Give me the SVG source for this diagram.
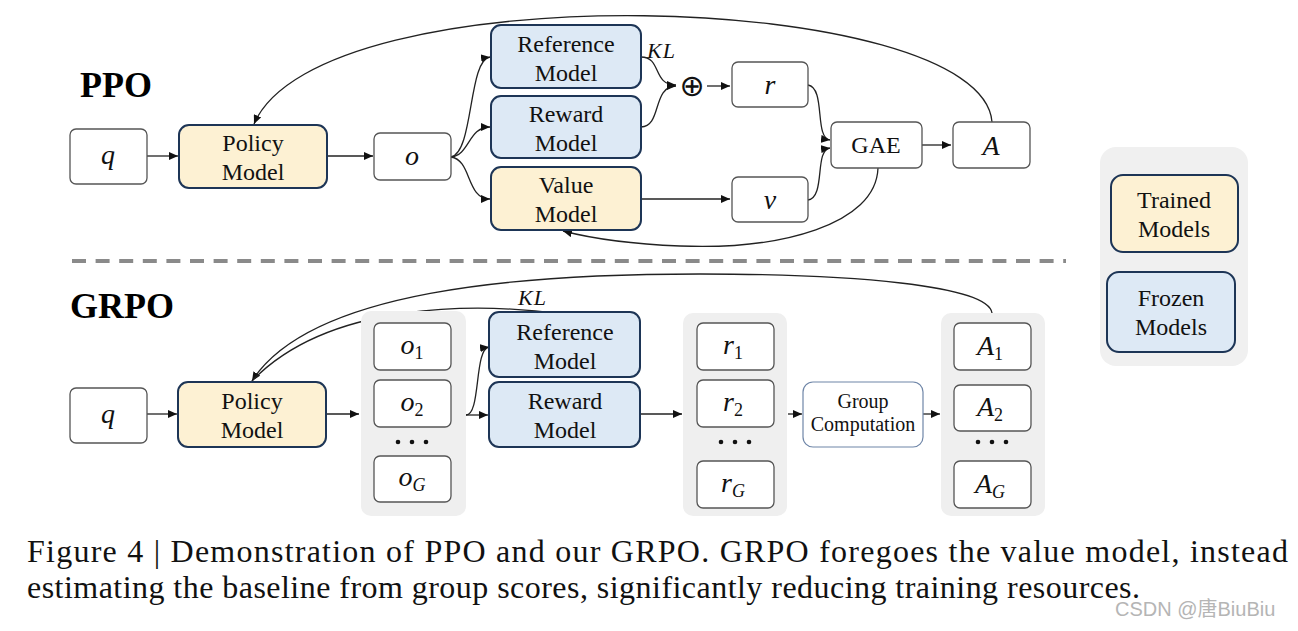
<svg xmlns="http://www.w3.org/2000/svg" width="1298" height="631" viewBox="0 0 1298 631">
<defs>
<marker id="ah" markerUnits="userSpaceOnUse" markerWidth="9" markerHeight="8" refX="9" refY="4" orient="auto">
<path d="M0,0 L9,4 L0,8 z" fill="#111"/>
</marker>
<style>
.wb{fill:#fff;stroke:#555;stroke-width:1.3}
.tr{fill:#fdf1d3;stroke:#1d3556;stroke-width:2}
.fr{fill:#dde9f5;stroke:#1d3556;stroke-width:2}
.grp{fill:#efefef;stroke:none}
.t{font-family:"Liberation Serif","Times New Roman",serif;font-size:24px;fill:#111;text-anchor:middle}
.gc{font-family:"Liberation Serif","Times New Roman",serif;font-size:20px;fill:#111;text-anchor:middle}
.m{font-family:"Liberation Serif","Times New Roman",serif;font-style:italic;font-size:28px;fill:#111;text-anchor:middle}
.sub{font-style:normal;font-size:18px}
.subi{font-style:italic;font-size:18px}
.kl{font-family:"Liberation Serif","Times New Roman",serif;font-style:italic;font-size:22px;fill:#111;letter-spacing:1px}
.ttl{font-family:"Liberation Serif","Times New Roman",serif;font-weight:bold;font-size:36px;fill:#000}
.cap{font-family:"Liberation Serif","Times New Roman",serif;font-size:32px;fill:#111}
.c{fill:none;stroke:#222;stroke-width:1.3}
.ca{fill:none;stroke:#222;stroke-width:1.3;marker-end:url(#ah)}
.dot{fill:#111}
</style>
</defs>
<rect width="1298" height="631" fill="#fff"/>

<text class="ttl" x="80" y="97">PPO</text>
<text class="ttl" x="70" y="318">GRPO</text>

<g id="connectors">
<!-- PPO -->
<path class="ca" d="M147,156 L178,156"/>
<path class="ca" d="M327,156 L373,156"/>
<path class="ca" d="M451,157 C474,152 468,60 490,57"/>
<path class="ca" d="M451,157 C470,155 468,127 490,127"/>
<path class="ca" d="M451,157 C472,160 466,199 490,199"/>
<path class="ca" d="M641,57 C662,57 652,85 676,85"/>
<path class="ca" d="M641,127 C662,127 652,86 676,86"/>
<path class="ca" d="M707,86 L730,86"/>
<path class="ca" d="M641,199 L730,199"/>
<path class="ca" d="M808,85 C826,88 814,138 830,140"/>
<path class="ca" d="M808,200 C826,197 814,150 830,148"/>
<path class="ca" d="M922,145 L951,145"/>
<path class="ca" d="M992,122 C982,-10 320,-30 254,124"/>
<path class="ca" d="M878,168 C876,225 780,250 680,246 C630,244 590,238 563,231"/>
<!-- dashed separator -->
<path d="M72,261 L1066,261" stroke="#8a8a8a" stroke-width="4" stroke-dasharray="14 9.6" fill="none"/>
<!-- GRPO -->
<path class="ca" d="M147,414 L177,414"/>
<path class="ca" d="M326,414 L359,414"/>
<path class="ca" d="M466,415 C481,415 474,349 489,347"/>
<path class="ca" d="M466,415 L488,415"/>
<path class="ca" d="M640,414 L682,414"/>
<path class="ca" d="M788,414 L802,414"/>
<path class="ca" d="M923,414 L940,414"/>
<path class="ca" d="M992,313 C988,285 850,274 700,274 C520,274 310,290 252,381"/>
<path class="c" d="M563,314 C480,303 330,300 252,381"/>
</g>

<text class="kl" x="647" y="58">KL</text>
<text x="692" y="96" font-family="DejaVu Sans, sans-serif" font-size="30" text-anchor="middle" fill="#111">⊕</text>
<text class="kl" x="518" y="305">KL</text>

<!-- PPO nodes -->
<g id="ppo-q"><rect class="wb" x="70" y="129" width="77" height="55" rx="6"/><text class="m" x="108" y="164">q</text></g>
<g id="ppo-policy"><rect class="tr" x="179" y="125" width="148" height="63" rx="10"/><text class="t" x="253" y="151">Policy</text><text class="t" x="253" y="180">Model</text></g>
<g id="ppo-o"><rect class="wb" x="374" y="133" width="77" height="47" rx="6"/><text class="m" x="412" y="165">o</text></g>
<g id="ppo-ref"><rect class="fr" x="491" y="25" width="150" height="63" rx="10"/><text class="t" x="566" y="52">Reference</text><text class="t" x="566" y="81">Model</text></g>
<g id="ppo-reward"><rect class="fr" x="491" y="96" width="150" height="62" rx="10"/><text class="t" x="566" y="122">Reward</text><text class="t" x="566" y="151">Model</text></g>
<g id="ppo-value"><rect class="tr" x="491" y="167" width="150" height="63" rx="10"/><text class="t" x="566" y="193">Value</text><text class="t" x="566" y="222">Model</text></g>
<g id="ppo-r"><rect class="wb" x="732" y="62" width="76" height="45" rx="6"/><text class="m" x="770" y="94">r</text></g>
<g id="ppo-v"><rect class="wb" x="732" y="177" width="76" height="45" rx="6"/><text class="m" x="770" y="209">v</text></g>
<g id="ppo-gae"><rect class="wb" x="831" y="122" width="91" height="46" rx="6"/><text class="t" x="876" y="153">GAE</text></g>
<g id="ppo-a"><rect class="wb" x="953" y="122" width="77" height="46" rx="6"/><text class="m" x="991" y="155">A</text></g>

<!-- Legend -->
<g id="legend">
<rect x="1100" y="147" width="148" height="219" rx="16" fill="#f0f0f0"/>
<rect class="tr" x="1111" y="175" width="127" height="77" rx="12"/>
<text class="t" x="1174" y="208">Trained</text><text class="t" x="1174" y="237">Models</text>
<rect class="fr" x="1107" y="272" width="128" height="80" rx="12"/>
<text class="t" x="1171" y="306">Frozen</text><text class="t" x="1171" y="335">Models</text>
</g>

<!-- GRPO nodes -->
<g id="grpo-q"><rect class="wb" x="70" y="388" width="77" height="55" rx="6"/><text class="m" x="108" y="423">q</text></g>
<g id="grpo-policy"><rect class="tr" x="178" y="382" width="148" height="65" rx="10"/><text class="t" x="252" y="409">Policy</text><text class="t" x="252" y="438">Model</text></g>
<g id="grpo-o">
<rect class="grp" x="361" y="311" width="105" height="205" rx="10"/>
<rect class="wb" x="374" y="323" width="77" height="47" rx="6"/><text class="m" x="412" y="354">o<tspan class="sub" dy="5">1</tspan></text>
<rect class="wb" x="374" y="380" width="77" height="47" rx="6"/><text class="m" x="412" y="411">o<tspan class="sub" dy="5">2</tspan></text>
<circle class="dot" cx="398" cy="442" r="2.3"/><circle class="dot" cx="412" cy="442" r="2.3"/><circle class="dot" cx="426" cy="442" r="2.3"/>
<rect class="wb" x="374" y="456" width="77" height="46" rx="6"/><text class="m" x="412" y="486">o<tspan class="subi" dy="5">G</tspan></text>
</g>
<g id="grpo-ref"><rect class="fr" x="489" y="312" width="151" height="65" rx="10"/><text class="t" x="565" y="340">Reference</text><text class="t" x="565" y="369">Model</text></g>
<g id="grpo-reward"><rect class="fr" x="489" y="382" width="151" height="65" rx="10"/><text class="t" x="565" y="409">Reward</text><text class="t" x="565" y="438">Model</text></g>
<g id="grpo-r">
<rect class="grp" x="683" y="313" width="104" height="203" rx="10"/>
<rect class="wb" x="697" y="323" width="77" height="47" rx="6"/><text class="m" x="733" y="354">r<tspan class="sub" dy="5">1</tspan></text>
<rect class="wb" x="697" y="380" width="77" height="47" rx="6"/><text class="m" x="733" y="411">r<tspan class="sub" dy="5">2</tspan></text>
<circle class="dot" cx="721" cy="442" r="2.3"/><circle class="dot" cx="735" cy="442" r="2.3"/><circle class="dot" cx="749" cy="442" r="2.3"/>
<rect class="wb" x="697" y="461" width="77" height="47" rx="6"/><text class="m" x="733" y="492">r<tspan class="subi" dy="5">G</tspan></text>
</g>
<g id="grpo-group"><rect x="803" y="382" width="120" height="65" rx="10" fill="#fff" stroke="#6f86a8" stroke-width="1.2"/><text class="gc" x="863" y="408">Group</text><text class="gc" x="863" y="431">Computation</text></g>
<g id="grpo-a">
<rect class="grp" x="941" y="313" width="104" height="203" rx="10"/>
<rect class="wb" x="954" y="323" width="77" height="47" rx="6"/><text class="m" x="990" y="355">A<tspan class="sub" dy="5">1</tspan></text>
<rect class="wb" x="954" y="385" width="77" height="46" rx="6"/><text class="m" x="990" y="416">A<tspan class="sub" dy="5">2</tspan></text>
<circle class="dot" cx="978" cy="442" r="2.3"/><circle class="dot" cx="992" cy="442" r="2.3"/><circle class="dot" cx="1006" cy="442" r="2.3"/>
<rect class="wb" x="954" y="461" width="77" height="47" rx="6"/><text class="m" x="990" y="493">A<tspan class="subi" dy="5">G</tspan></text>
</g>

<text class="cap" x="27" y="562" textLength="1261" lengthAdjust="spacing">Figure 4 | Demonstration of PPO and our GRPO. GRPO foregoes the value model, instead</text>
<text class="cap" x="27" y="598" textLength="1113" lengthAdjust="spacing">estimating the baseline from group scores, significantly reducing training resources.</text>
<text x="1115" y="616" font-family="Liberation Sans, Noto Sans CJK SC, sans-serif" font-size="20" fill="#b5b5b5">CSDN @唐BiuBiu</text>
</svg>
